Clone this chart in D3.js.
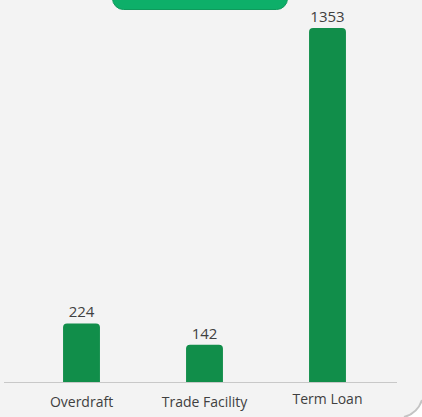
<!DOCTYPE html>
<html>
<head>
<meta charset="utf-8">
<script src="https://cdn.jsdelivr.net/npm/d3@7"></script>
<style>
  html, body { margin: 0; padding: 0; background: #f3f3f3; }
  svg { display: block; }
</style>
</head>
<body>
<svg id="chart" width="422" height="417"></svg>
<script>
const categories = ["Overdraft", "Trade Facility", "Term Loan"];
const values = [224, 142, 1353];

const W = 422, H = 417;
const svg = d3.select("#chart");

svg.append("rect").attr("x", 0).attr("y", 0).attr("width", W).attr("height", H).attr("fill", "#f3f3f3");

// card corner at bottom-right
svg.append("path")
  .attr("d", "M422,400 A26,26 0 0 1 404,417 L422,417 Z")
  .attr("fill", "#ffffff");
svg.append("path")
  .attr("d", "M422,400 A26,26 0 0 1 404,417")
  .attr("fill", "none").attr("stroke", "#c4c4c4").attr("stroke-width", 2);

// title box (cut off at top)
svg.append("rect")
  .attr("x", 112.5).attr("y", -20).attr("width", 175).attr("height", 29.5)
  .attr("rx", 11).attr("ry", 11)
  .attr("fill", "#0daf69").attr("stroke", "#0f9a5c").attr("stroke-width", 1);

const baseY = 382;
const x = d3.scaleBand().domain(categories).range([20, 389]).paddingInner(0.7).paddingOuter(0.35);
const y = d3.scaleLinear().domain([0, 1353]).range([baseY, 28]);

const bw = x.bandwidth();
const r = 4;
function barPath(d, i) {
  const x0 = x(categories[i]), x1 = x0 + bw, y0 = y(d);
  return `M${x0},${baseY} L${x0},${y0 + r} Q${x0},${y0} ${x0 + r},${y0} L${x1 - r},${y0} Q${x1},${y0} ${x1},${y0 + r} L${x1},${baseY} Z`;
}

svg.append("g").selectAll("path").data(values).join("path")
  .attr("d", barPath)
  .attr("fill", "#118e4a");

// baseline
svg.append("line").attr("x1", 4).attr("x2", 397).attr("y1", baseY + 0.5).attr("y2", baseY + 0.5)
  .attr("stroke", "#c8c8c8").attr("stroke-width", 1);

// value labels
svg.append("g").selectAll("text").data(values).join("text")
  .attr("x", (d, i) => x(categories[i]) + bw / 2)
  .attr("y", d => y(d) - 6)
  .attr("text-anchor", "middle")
  .attr("font-family", "'Open Sans', sans-serif")
  .attr("font-size", 15)
  .attr("fill", "#404040")
  .text(d => d);

// category labels
const xAxis = d3.axisBottom(x).tickSize(0).tickPadding(0);
const ax = svg.append("g").attr("transform", `translate(0,${baseY})`).call(xAxis);
ax.select(".domain").remove();
ax.selectAll("text")
  .attr("dy", null)
  .attr("y", (d, i) => i === 2 ? 22 : 25)
  .attr("font-family", "'Open Sans', sans-serif")
  .attr("font-size", 14)
  .attr("fill", "#404040");
</script>
</body>
</html>
